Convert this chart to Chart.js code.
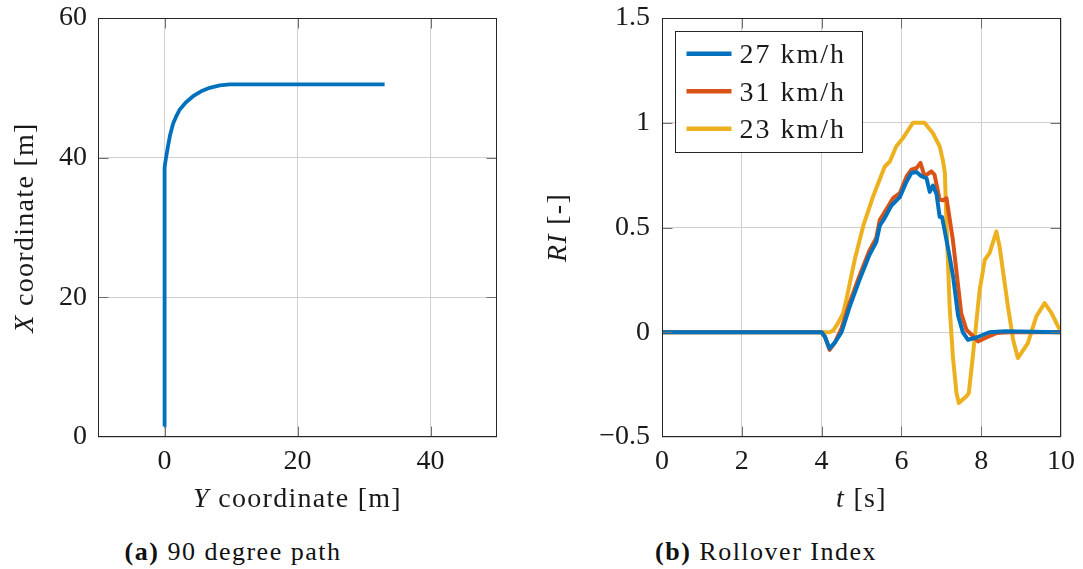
<!DOCTYPE html>
<html>
<head>
<meta charset="utf-8">
<script src="https://cdn.jsdelivr.net/npm/chart.js@4.4.1/dist/chart.umd.min.js"></script>
<style>
  html, body { margin: 0; padding: 0; background: #fff; width: 1083px; height: 569px; overflow: hidden; }
  canvas { position: absolute; top: 0; }
  #pathChart { left: 0; }
  #riChart { left: 545px; }
  .cap { position: absolute; top: 539px; width: 420px; text-align: center; font-family: 'Liberation Serif', serif;
         font-size: 26px; line-height: 26px; letter-spacing: 1.5px; color: #111; white-space: nowrap; }
</style>
</head>
<body>
<canvas id="pathChart" width="545" height="525"></canvas>
<canvas id="riChart" width="538" height="525"></canvas>
<div class="cap" style="left:23px"><b>(a)</b> 90 degree path</div>
<div class="cap" style="left:556px"><b>(b)</b> Rollover Index</div>
<script>
// ---- (a) vehicle path: lateral Y [m] vs longitudinal X [m] ----
const pathY = [0, 0, 0.03, 0.1, 0.23, 0.5, 0.83, 1.3, 1.8, 2.3, 3.2, 4.3, 5.5, 6.8, 8.3, 9.85, 33.1];
const pathX = [1.5, 37.8, 38.5, 39.2, 40.0, 41.5, 43.2, 44.9, 46.0, 46.9, 47.9, 48.8, 49.5, 50.0, 50.35, 50.5, 50.5];
const pathYTicks = [0, 20, 40];
const pathXTicks = [0, 20, 40, 60];

// ---- (b) rollover index RI over time t [s] for three speeds ----
const t27  = [0, 4.0, 4.08, 4.2, 4.33, 4.5, 4.7, 4.95, 5.2, 5.37, 5.46, 5.58, 5.75, 5.96, 6.13, 6.25, 6.38, 6.5, 6.63, 6.71, 6.79, 6.88, 6.96, 7.02, 7.1, 7.21, 7.3, 7.42, 7.54, 7.67, 7.88, 8.2, 8.6, 10];
const ri27 = [0, 0, -0.02, -0.077, -0.05, 0.0, 0.12, 0.25, 0.37, 0.43, 0.51, 0.545, 0.605, 0.645, 0.72, 0.76, 0.765, 0.745, 0.735, 0.67, 0.7, 0.66, 0.55, 0.55, 0.47, 0.36, 0.26, 0.08, 0.0, -0.036, -0.025, 0.0, 0.005, 0];

const t31  = [0, 4.0, 4.08, 4.2, 4.33, 4.5, 4.7, 4.95, 5.2, 5.37, 5.46, 5.54, 5.79, 5.96, 6.13, 6.25, 6.38, 6.48, 6.58, 6.75, 6.83, 6.96, 7.04, 7.13, 7.29, 7.5, 7.63, 7.8, 7.92, 8.09, 8.38, 8.7, 10];
const ri31 = [0, 0, -0.02, -0.084, -0.05, 0.02, 0.14, 0.27, 0.39, 0.45, 0.537, 0.561, 0.64, 0.664, 0.744, 0.776, 0.784, 0.808, 0.744, 0.768, 0.752, 0.632, 0.63, 0.64, 0.44, 0.09, 0.012, -0.02, -0.044, -0.028, -0.004, 0, 0];

const t23  = [0, 4.2, 4.3, 4.4, 4.54, 4.62, 4.83, 5.04, 5.29, 5.58, 5.71, 5.87, 6.04, 6.29, 6.58, 6.79, 6.96, 7.04, 7.09, 7.13, 7.21, 7.29, 7.38, 7.44, 7.63, 7.69, 7.79, 7.96, 8.09, 8.21, 8.38, 8.46, 8.67, 8.8, 8.92, 9.17, 9.38, 9.59, 9.76, 10];
const ri23 = [0, 0, 0.01, 0.04, 0.09, 0.155, 0.346, 0.505, 0.648, 0.79, 0.815, 0.887, 0.927, 1.0, 1.0, 0.95, 0.887, 0.82, 0.76, 0.52, 0.12, -0.115, -0.29, -0.338, -0.306, -0.29, -0.115, 0.2, 0.346, 0.378, 0.481, 0.41, 0.123, -0.036, -0.123, -0.052, 0.075, 0.139, 0.092, 0];

const speedLabels = ['27 km/h', '31 km/h', '23 km/h'];
const speedColors = ['#0072BD', '#D95319', '#EDB120'];
const timeTicks = [0, 2, 4, 6, 8, 10];
const riTicks = [-0.5, 0, 0.5, 1, 1.5];

// axis titles: pieces flagged italic are math symbols
const pathXTitle = [{t: 'Y', it: true}, {t: ' coordinate [m]'}];
const pathYTitle = [{t: 'X', it: true}, {t: ' coordinate [m]'}];
const riXTitle = [{t: 't', it: true}, {t: ' [s]'}];
const riYTitle = [{t: 'RI', it: true}, {t: ' [-]'}];

const FAMILY = "'Liberation Serif', serif";
const TEXT = '#1a1a1a';
const GRID = 'rgb(208,208,208)';
const tickFont = {family: FAMILY, size: 28};

function fmt(v) {
  return v < 0 ? '\u2212' + String(Math.abs(v)) : String(v);
}

function drawRich(ctx, parts, x, y, rotate, size) {
  ctx.save();
  ctx.translate(x, y);
  if (rotate) ctx.rotate(-Math.PI / 2);
  ctx.letterSpacing = '1.3px';
  const fontOf = p => (p.it ? 'italic ' : '') + size + 'px ' + FAMILY;
  let total = 0;
  const widths = parts.map(p => { ctx.font = fontOf(p); const w = ctx.measureText(p.t).width; total += w; return w; });
  let cx = -total / 2;
  ctx.textAlign = 'left';
  ctx.textBaseline = 'alphabetic';
  ctx.fillStyle = TEXT;
  parts.forEach((p, i) => { ctx.font = fontOf(p); ctx.fillText(p.t, cx, 0); cx += widths[i]; });
  ctx.restore();
}

// Box frame, inward tick marks, axis titles and boxed legend
const framePlugin = {
  id: 'frame',
  afterDatasetsDraw(chart, args, opts) {
    const ctx = chart.ctx;
    const a = chart.chartArea;
    const L = Math.round(a.left) + 0.5, R = Math.round(a.right) - 0.5;
    const T = Math.round(a.top) + 0.5, B = Math.round(a.bottom) - 0.5;
    const tl = 10;
    ctx.save();
    ctx.strokeStyle = '#707070';
    ctx.lineWidth = 1;
    ctx.beginPath();
    chart.scales.x.ticks.forEach(tk => {
      const px = Math.round(chart.scales.x.getPixelForValue(tk.value)) + 0.5;
      if (px <= L + 1 || px >= R - 1) return;
      ctx.moveTo(px, B); ctx.lineTo(px, B - tl);
      ctx.moveTo(px, T); ctx.lineTo(px, T + tl);
    });
    chart.scales.y.ticks.forEach(tk => {
      const py = Math.round(chart.scales.y.getPixelForValue(tk.value)) + 0.5;
      if (py <= T + 1 || py >= B - 1) return;
      ctx.moveTo(L, py); ctx.lineTo(L + tl, py);
      ctx.moveTo(R, py); ctx.lineTo(R - tl, py);
    });
    ctx.stroke();
    ctx.strokeStyle = '#262626';
    ctx.strokeRect(L, T, R - L, B - T);
    ctx.restore();

    const cxm = (a.left + a.right) / 2, cym = (a.top + a.bottom) / 2;
    drawRich(ctx, opts.xTitle, cxm, a.bottom + 70, false, 28);
    drawRich(ctx, opts.yTitle, a.left - opts.yTitleGap, cym, true, 28);

    if (opts.legend) {
      const bx = Math.round(a.left + 13) + 0.5, by = Math.round(a.top + 13) + 0.5;
      const bw = 187, bh = 121;
      ctx.save();
      ctx.fillStyle = '#fff';
      ctx.fillRect(bx, by, bw, bh);
      ctx.strokeStyle = '#262626';
      ctx.lineWidth = 1;
      ctx.strokeRect(bx, by, bw, bh);
      chart.data.datasets.forEach((ds, i) => {
        const ry = by + 22.3 + i * 37.5;
        ctx.strokeStyle = ds.borderColor;
        ctx.lineWidth = 4.5;
        ctx.beginPath();
        ctx.moveTo(bx + 11, ry); ctx.lineTo(bx + 56, ry);
        ctx.stroke();
        ctx.fillStyle = TEXT;
        ctx.font = '28px ' + FAMILY;
        ctx.letterSpacing = '2px';
        ctx.textAlign = 'left';
        ctx.textBaseline = 'alphabetic';
        ctx.fillText(ds.label, bx + 64, ry + 9.5);
      });
      ctx.restore();
    }
  }
};

function axis(min, max, ticks, fit, horizontal, pad) {
  return {
    type: 'linear', min, max,
    afterBuildTicks: s => { s.ticks = ticks.map(v => ({value: v})); },
    afterFit: s => {
      if (horizontal) s.height = fit; else s.width = fit;
      // labels may overhang the plot box; keep the box where the layout puts it
      s.paddingTop = 0; s.paddingBottom = 0; s.paddingLeft = 0; s.paddingRight = 0;
    },
    grid: {color: GRID, lineWidth: 1, drawTicks: false},
    border: {display: false},
    ticks: {font: tickFont, color: TEXT, padding: pad, maxRotation: 0, autoSkip: false, callback: v => fmt(v)}
  };
}

const common = {
  responsive: false,
  animation: false,
  devicePixelRatio: 1,
  events: []
};

new Chart(document.getElementById('pathChart'), {
  type: 'scatter',
  data: {
    datasets: [{
      label: 'path',
      data: pathY.map((y, i) => ({x: y, y: pathX[i]})),
      showLine: true, borderColor: '#0072BD', borderWidth: 3.8, pointRadius: 0,
      tension: 0, borderCapStyle: 'butt', borderJoinStyle: 'round'
    }]
  },
  options: Object.assign({}, common, {
    layout: {padding: {left: 0, right: 48, top: 18, bottom: 0}},
    plugins: {
      legend: {display: false}, tooltip: {enabled: false},
      frame: {xTitle: pathXTitle, yTitle: pathYTitle, yTitleGap: 65.5, legend: false}
    },
    scales: {
      x: axis(-10, 50, pathYTicks, 88, true, 8),
      y: axis(0, 60, pathXTicks, 98, false, 11)
    }
  }),
  plugins: [framePlugin]
});

const series = [[t27, ri27], [t31, ri31], [t23, ri23]];
new Chart(document.getElementById('riChart'), {
  type: 'scatter',
  data: {
    datasets: series.map((s, k) => ({
      label: speedLabels[k],
      data: s[0].map((t, i) => ({x: t, y: s[1][i]})),
      showLine: true, borderColor: speedColors[k], borderWidth: 4, pointRadius: 0,
      tension: 0, borderCapStyle: 'butt', borderJoinStyle: 'round'
    }))
  },
  options: Object.assign({}, common, {
    layout: {padding: {left: 0, right: 22, top: 18, bottom: 0}},
    plugins: {
      legend: {display: false}, tooltip: {enabled: false},
      frame: {xTitle: riXTitle, yTitle: riYTitle, yTitleGap: 96, legend: true}
    },
    scales: {
      x: axis(0, 10, timeTicks, 88, true, 8),
      y: axis(-0.5, 1.5, riTicks, 117, false, 12)
    }
  }),
  plugins: [framePlugin]
});
</script>
</body>
</html>
